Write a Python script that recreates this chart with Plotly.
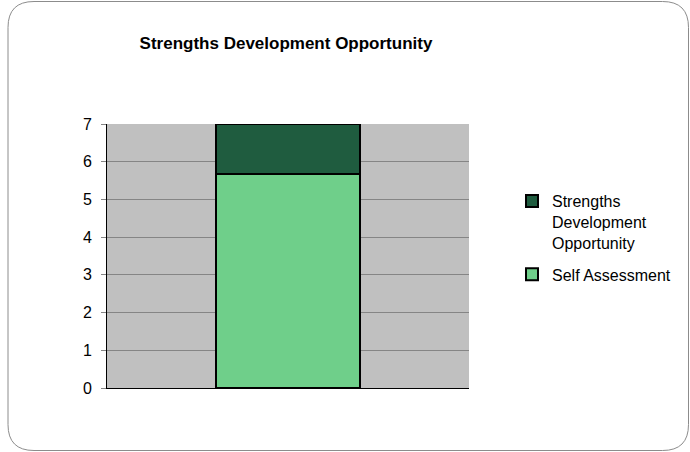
import plotly.graph_objects as go

categories = [""]
self_assessment = [5.67]
strengths_dev = [1.33]
y_ticks = [0, 1, 2, 3, 4, 5, 6, 7]

W, H = 690, 452
L, R, T, B = 107, 469, 124, 388

def px(x):
    return (x - L) / (R - L)

def py(y):
    return (B - y) / (B - T)

fig = go.Figure()
fig.add_trace(go.Bar(
    x=categories, y=self_assessment, name="Self Assessment",
    marker=dict(color="#6FCF8A", line=dict(color="black", width=2)),
    legendgroup="a", legendrank=2, width=0.4,
))
fig.add_trace(go.Bar(
    x=categories, y=strengths_dev, name="Strengths<br>Development<br>Opportunity",
    marker=dict(color="#1F5C3F", line=dict(color="black", width=2)),
    legendgroup="b", legendrank=1, width=0.4,
))

# rounded outer border
x0, x1, y0, y1, r = 8, 688.5, 1.5, 450.5, 26
path = (
    f"M {px(x0+r)},{py(y0)} L {px(x1-r)},{py(y0)} Q {px(x1)},{py(y0)} {px(x1)},{py(y0+r)} "
    f"L {px(x1)},{py(y1-r)} Q {px(x1)},{py(y1)} {px(x1-r)},{py(y1)} "
    f"L {px(x0+r)},{py(y1)} Q {px(x0)},{py(y1)} {px(x0)},{py(y1-r)} "
    f"L {px(x0)},{py(y0+r)} Q {px(x0)},{py(y0)} {px(x0+r)},{py(y0)} Z"
)
fig.add_shape(type="path", path=path, xref="paper", yref="paper",
              line=dict(color="#8c8c8c", width=1), layer="above")

fig.update_layout(
    width=W, height=H,
    margin=dict(l=L, r=W - R, t=T, b=H - B, pad=0),
    paper_bgcolor="white", plot_bgcolor="#C0C0C0",
    barmode="stack",
    font=dict(family="Liberation Sans, Arial, sans-serif", size=16, color="black"),
    title=dict(text="<b>Strengths Development Opportunity</b>", x=286 / W, xanchor="center",
               y=1 - 43 / H, yanchor="middle", font=dict(size=17)),
    showlegend=True,
    legend=dict(x=px(512), xanchor="left", y=py(184), yanchor="top",
                traceorder="grouped", tracegroupgap=8, valign="top",
                font=dict(size=16), bgcolor="rgba(0,0,0,0)"),
    xaxis=dict(showline=True, linecolor="black", linewidth=1, showticklabels=False,
               ticks="", showgrid=False, range=[-0.5, 0.5], fixedrange=True),
    yaxis=dict(range=[0, 7], tickvals=y_ticks, showline=True, linecolor="black", linewidth=1,
               showgrid=True, gridcolor="#858585", gridwidth=1, ticks="outside", ticklen=5,
               tickcolor="#858585", zeroline=False, tickfont=dict(size=16),
               ticklabelstandoff=6),
)

fig.write_html("out.html")
